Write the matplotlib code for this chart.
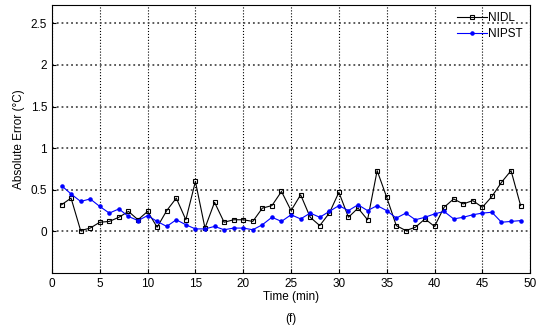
import matplotlib

matplotlib.use("Agg")
import matplotlib.pyplot as plt
import numpy as np

plt.rcParams["font.family"] = ["Liberation Sans", "DejaVu Sans"]

# Time axis (min)
time_min = np.arange(1, 50)

# Absolute error (degC)
nidl_err = [
    0.32, 0.40, 0.01, 0.04, 0.11, 0.12, 0.17, 0.24, 0.14, 0.24,
    0.05, 0.25, 0.40, 0.14, 0.60, 0.04, 0.35, 0.11, 0.14, 0.14,
    0.12, 0.28, 0.31, 0.48, 0.25, 0.44, 0.17, 0.07, 0.22, 0.47,
    0.17, 0.28, 0.14, 0.73, 0.41, 0.07, 0.01, 0.05, 0.15, 0.06,
    0.29, 0.39, 0.33, 0.37, 0.29, 0.42, 0.59, 0.73, 0.31,
]
nipst_err = [
    0.55, 0.45, 0.36, 0.39, 0.30, 0.22, 0.27, 0.18, 0.13, 0.19,
    0.12, 0.06, 0.14, 0.08, 0.03, 0.03, 0.06, 0.02, 0.04, 0.04,
    0.02, 0.08, 0.17, 0.12, 0.20, 0.15, 0.22, 0.17, 0.24, 0.31,
    0.25, 0.32, 0.25, 0.31, 0.25, 0.16, 0.22, 0.14, 0.17, 0.21,
    0.24, 0.15, 0.17, 0.20, 0.22, 0.23, 0.11, 0.12, 0.13,
]

x_ticks = np.arange(0, 51, 5)
y_ticks = [0, 0.5, 1, 1.5, 2, 2.5]
y_tick_labels = ["0", "0.5", "1", "1.5", "2", "2.5"]

fig = plt.figure(figsize=(5.41, 3.35), dpi=100)
ax = fig.add_axes([0.096, 0.185, 0.884, 0.80])

ax.plot(time_min, nidl_err, color="black", linestyle="-", marker="s",
        linewidth=0.8, markersize=3, markerfacecolor="none",
        markeredgewidth=0.8, label="NIDL", zorder=3)
ax.plot(time_min, nipst_err, color="blue", linestyle="-", marker=".",
        linewidth=0.8, markersize=4.5, label="NIPST", zorder=3)

ax.set_xlim(0, 50)
ax.set_ylim(-0.5, 2.72)
ax.set_xticks(x_ticks)
ax.set_yticks(y_ticks)
ax.set_yticklabels(y_tick_labels)
ax.tick_params(labelsize=8.5, direction="in", length=3, width=0.8)

ax.xaxis.grid(True, linestyle=":", color="black", linewidth=0.8)
ax.yaxis.grid(True, linestyle=":", color="0.3", linewidth=1.3)
for s in ax.spines.values():
    s.set_linewidth(0.8)

ax.set_xlabel("Time (min)", fontsize=8.5, labelpad=1)
ax.set_ylabel("Absolute Error (°C)", fontsize=8.5, labelpad=4)
fig.text(0.5 * (0.096 + 0.98), 0.048, "(f)", ha="center", va="center", fontsize=8.5)

leg = ax.legend(loc="upper right", frameon=False, fontsize=8.5,
                handlelength=2.6, handletextpad=0.1, borderaxespad=0.2,
                labelspacing=0.3)

fig.savefig("out.png", dpi=100)
